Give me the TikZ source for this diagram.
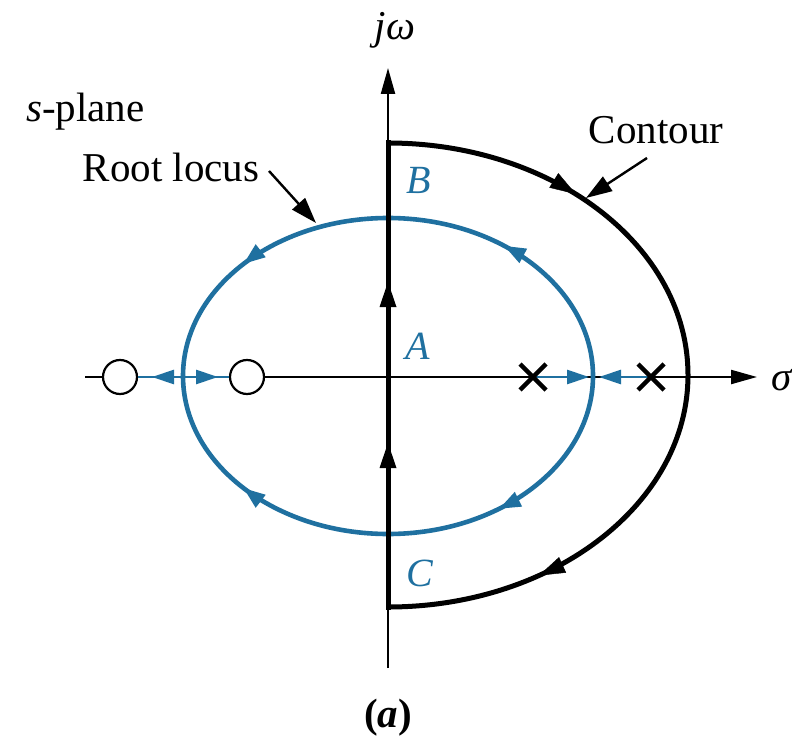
\documentclass[tikz,border=0pt]{standalone}
\usepackage{fontspec}
\setmainfont{Liberation Serif}
\usetikzlibrary{arrows.meta,decorations.markings}
\definecolor{locus}{RGB}{31,112,160}
\tikzset{
  txt/.style={font=\fontsize{41}{48}\selectfont, inner sep=0pt},
  lbl/.style={txt, text=locus, font=\fontsize{40}{48}\selectfont\itshape},
  axisline/.style={line width=2.2pt, -{Triangle[length=26pt,width=14pt]}},
  bigtip/.tip={Triangle[length=22pt,width=15pt]},
  ctip/.tip={Triangle[length=26pt,width=17pt]},
  smalltip/.tip={Triangle[length=22pt,width=14pt]},
  contourline/.style={line width=5pt},
  locusline/.style={draw=locus, line width=4.6pt},
  locusaxis/.style={draw=locus, line width=2.8pt},
  pointer/.style={line width=2.4pt, -{Triangle[length=26pt,width=17pt]}},
  zero/.style={circle, draw, fill=white, line width=2.2pt, minimum size=34pt, inner sep=0pt},
  polemark/.style={line width=4.4pt},
}
\begin{document}
\begin{tikzpicture}[x=1pt,y=1pt]
\useasboundingbox (0,0) rectangle (792,-746);
% axes
\coordinate (hL) at (85,-377);
\coordinate (hR) at (757,-377);
\coordinate (vB) at (388,-668);
\coordinate (vT) at (388,-68);
\draw[axisline] (hL) -- (hR);
\draw[axisline] (vB) -- (vT);
\node[txt] (sig) at (782,-380) {\textit{σ}};
\node[txt] (jw) at (395,-30) {\textit{jω}};
% root locus ellipse
\coordinate (eR) at (593,-376);
\draw[locusline, postaction={decorate}, decoration={markings,
   mark=at position 0.29 with {\arrow[locus]{bigtip}},
   mark=at position 0.77 with {\arrow[locus]{bigtip}}}]
  (eR) arc[start angle=0, end angle=180, x radius=205, y radius=158];
\draw[locusline, postaction={decorate}, decoration={markings,
   mark=at position 0.30 with {\arrow[locus]{bigtip}},
   mark=at position 0.77 with {\arrow[locus]{bigtip}}}]
  (eR) arc[start angle=0, end angle=-180, x radius=205, y radius=158];
% zeros
\node[zero] (z1) at (120,-377) {};
\node[zero] (z2) at (247,-377) {};
\coordinate (bL) at (183,-377);
\draw[locusaxis] (z1) -- (z2);
\draw[locusaxis, -{smalltip}] (bL) -- (152,-377);
\draw[locusaxis, -{smalltip}] (bL) -- (218,-377);
% poles
\coordinate (p1) at (533,-377);
\coordinate (p2) at (651,-377);
\draw[locusaxis, -{smalltip}] (p1) -- (589,-377);
\draw[locusaxis, -{smalltip}] (p2) -- (599,-377);
\draw[polemark] (520,-364) -- (546,-390) (520,-390) -- (546,-364);
\draw[polemark] (638,-364) -- (664,-390) (638,-390) -- (664,-364);
% contour
\coordinate (cB) at (388,-607);
\coordinate (cT) at (388,-143);
\draw[contourline, line cap=rect] (cB) -- (cT);
\draw[contourline] (cT) arc[start angle=90, end angle=-90, x radius=300, y radius=232];
\fill (388,-282) -- (379.5,-307) -- (396.5,-307) -- cycle;
\fill (388,-443) -- (379.5,-468) -- (396.5,-468) -- cycle;
\path[postaction={decorate}, decoration={markings,
   mark=at position 0.235 with {\arrow{ctip}},
   mark=at position 0.815 with {\arrow{ctip}}}]
  (cT) arc[start angle=90, end angle=-90, x radius=300, y radius=232];
% labels
\node[lbl] (B) at (419,-180) {B};
\node[lbl] (A) at (418,-346) {A};
\node[lbl] (C) at (420,-573) {C};
\node[txt, anchor=west] (sp) at (26,-112) {\textit{s}-plane};
\node[txt] (rl) at (171,-167) {Root locus};
\node[txt] (ct) at (656,-130) {Contour};
\coordinate (rlTip) at (316,-223);
\coordinate (ctTip) at (586,-198);
\draw[pointer] (269,-171) -- (rlTip);
\draw[pointer] (647,-158) -- (ctTip);
\node[txt] (cap) at (388,-718) {\textbf{(\textit{a})}};
\end{tikzpicture}
\end{document}
